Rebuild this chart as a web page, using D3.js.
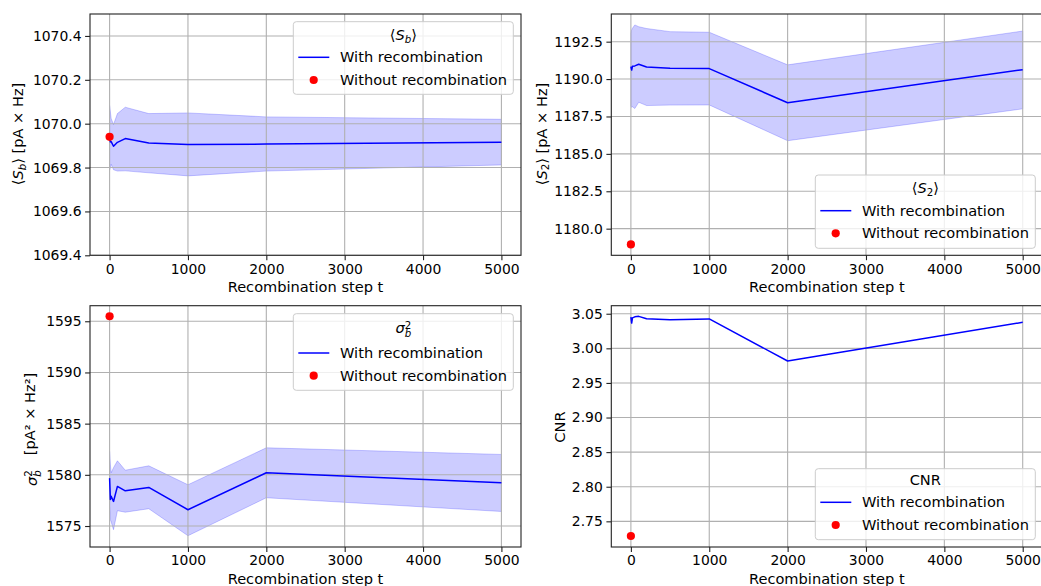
<!DOCTYPE html>
<html><head><meta charset="utf-8">
<script src="https://cdn.jsdelivr.net/npm/d3@7"></script>
<style>
body{margin:0;background:#fff;overflow:hidden}
text{font-family:"DejaVu Sans",sans-serif;fill:#000}
</style>
</head><body>
<svg id="c" width="1041" height="586"></svg>
<script>
// ---- data ----
const steps = [0, 10, 20, 50, 100, 200, 500, 1000, 2000, 5000];
const xTicks = [0, 1000, 2000, 3000, 4000, 5000];

const sbMean  = [1069.935, 1069.917, 1069.918, 1069.897, 1069.915, 1069.932, 1069.912, 1069.905, 1069.907, 1069.915];
const sbUpper = [1070.083, 1070.054, 1070.024, 1069.996, 1070.046, 1070.075, 1070.046, 1070.049, 1070.031, 1070.020];
const sbLower = [1069.788, 1069.800, 1069.815, 1069.790, 1069.784, 1069.785, 1069.776, 1069.762, 1069.784, 1069.812];
const sbNoRec = 1069.94;
const sbTicks = [1069.4, 1069.6, 1069.8, 1070.0, 1070.2, 1070.4];

const s2Mean  = [1190.83, 1190.60, 1190.85, 1190.88, 1190.99, 1190.81, 1190.73, 1190.70, 1188.42, 1190.63];
const s2Upper = [1193.06, 1193.30, 1193.40, 1193.62, 1193.50, 1193.38, 1193.17, 1193.13, 1190.95, 1193.21];
const s2Lower = [1188.21, 1188.10, 1188.15, 1188.03, 1188.45, 1188.23, 1188.26, 1188.27, 1185.88, 1188.01];
const s2NoRec = 1178.95;
const s2Ticks = [1180.0, 1182.5, 1185.0, 1187.5, 1190.0, 1192.5];

const sigMean  = [1579.68, 1577.60, 1577.90, 1577.40, 1578.87, 1578.44, 1578.77, 1576.59, 1580.20, 1579.22];
const sigUpper = [1582.30, 1581.00, 1580.20, 1580.70, 1581.37, 1580.45, 1580.88, 1579.03, 1582.64, 1581.99];
const sigLower = [1577.00, 1575.60, 1575.40, 1574.64, 1576.50, 1576.35, 1576.69, 1574.05, 1577.76, 1576.42];
const sigNoRec = 1595.49;
const sigTicks = [1575, 1580, 1585, 1590, 1595];

const cnrMean = [3.0452, 3.0365, 3.0440, 3.0455, 3.0462, 3.0427, 3.0413, 3.0425, 2.9817, 3.0376];
const cnrNoRec = 2.7288;
const cnrTicks = [2.75, 2.80, 2.85, 2.90, 2.95, 3.00, 3.05];

const legendLabels = ["With recombination", "Without recombination"];
const xLabel = "Recombination step t";

// ---- layout ----
const svg = d3.select("#c");
const FS = 13.9;   // tick labels
const FL = 14.6;   // axis labels & legend
const PW = 431, PH = 241.3;

const panels = [
  {left: 90, top: 14, dom: [1069.4, 1070.5], ticks: sbTicks, fmt: d3.format(".1f"),
   mean: sbMean, upper: sbUpper, lower: sbLower, noRec: sbNoRec,
   legend: {x: 293.3, y: 21.7, h: 72.6, t: 13.3, e1: 35.6, e2: 58.3}, title: "sb",
   ylab: {x: 18.3, y: 134, kind: "sb"}},
  {left: 611.3, top: 14, dom: [1178.22, 1194.35], ticks: s2Ticks, fmt: d3.format(".1f"),
   mean: s2Mean, upper: s2Upper, lower: s2Lower, noRec: s2NoRec,
   legend: {x: 815.3, y: 175, h: 73.3, t: 13.3, e1: 35.7, e2: 58.3}, title: "s2",
   ylab: {x: 541.7, y: 134, kind: "s2"}},
  {left: 90, top: 305.7, dom: [1572.95, 1596.52], ticks: sigTicks, fmt: d3.format("d"),
   mean: sigMean, upper: sigUpper, lower: sigLower, noRec: sigNoRec,
   legend: {x: 293.3, y: 313.7, h: 76.6, t: 14.6, e1: 39.3, e2: 62}, title: "sig",
   ylab: {x: 31.7, y: 426.5, kind: "sig"}},
  {left: 611.3, top: 305.7, dom: [2.7129, 3.0616], ticks: cnrTicks, fmt: d3.format(".2f"),
   mean: cnrMean, upper: null, lower: null, noRec: cnrNoRec,
   legend: {x: 815.3, y: 468.7, h: 71, t: 11, e1: 33.6, e2: 56.3}, title: "cnr",
   ylab: {x: 560, y: 427, kind: "cnr"}}
];

function mathTitle(sel, kind) {
  if (kind === "sb") {
    sel.append("tspan").text("⟨");
    sel.append("tspan").attr("font-style", "italic").text("S");
    sel.append("tspan").attr("font-style", "italic").attr("font-size", "70%").attr("dy", "0.25em").text("b");
    sel.append("tspan").attr("dy", "-0.18em").text("⟩");
  } else if (kind === "s2") {
    sel.append("tspan").text("⟨");
    sel.append("tspan").attr("font-style", "italic").text("S");
    sel.append("tspan").attr("font-size", "70%").attr("dy", "0.25em").text("2");
    sel.append("tspan").attr("dy", "-0.18em").text("⟩");
  } else if (kind === "sig") {
    sel.append("tspan").attr("font-style", "italic").text("σ");
    sel.append("tspan").attr("font-size", "70%").attr("dy", "-0.45em").text("2");
    sel.append("tspan").attr("font-size", "70%").attr("font-style", "italic").attr("dx", -6.5).attr("dy", "0.85em").text("b");
  } else {
    sel.append("tspan").text("CNR");
  }
}

panels.forEach((p, i) => {
  const x = d3.scaleLinear().domain([-250, 5250]).range([p.left, p.left + PW]);
  const y = d3.scaleLinear().domain(p.dom).range([p.top + PH, p.top]);
  const g = svg.append("g");
  const clipId = "clip" + i;
  svg.append("clipPath").attr("id", clipId).append("rect")
    .attr("x", p.left).attr("y", p.top).attr("width", PW).attr("height", PH);

  // band
  if (p.upper) {
    const area = d3.area().x((d, j) => x(steps[j])).y0((d, j) => y(p.lower[j])).y1((d, j) => y(p.upper[j]));
    g.append("path").datum(p.mean).attr("d", area).attr("fill", "#0000ff").attr("fill-opacity", 0.2)
      .attr("stroke", "#0000ff").attr("stroke-opacity", 0.2).attr("stroke-width", 1)
      .attr("clip-path", `url(#${clipId})`);
  }

  // grid
  const gridG = g.append("g").attr("clip-path", `url(#${clipId})`);
  gridG.selectAll("line.gx").data(xTicks).join("line")
    .attr("x1", d => x(d)).attr("x2", d => x(d)).attr("y1", p.top).attr("y2", p.top + PH)
    .attr("stroke", "#b0b0b0").attr("stroke-width", 1.1);
  gridG.selectAll("line.gy").data(p.ticks).join("line")
    .attr("y1", d => y(d)).attr("y2", d => y(d)).attr("x1", p.left).attr("x2", p.left + PW)
    .attr("stroke", "#b0b0b0").attr("stroke-width", 1.1);

  // line
  const line = d3.line().x((d, j) => x(steps[j])).y(d => y(d));
  g.append("path").datum(p.mean).attr("d", line).attr("fill", "none")
    .attr("stroke", "#0000ff").attr("stroke-width", 1.5).attr("stroke-linejoin", "round")
    .attr("clip-path", `url(#${clipId})`);

  // red point
  g.append("circle").attr("cx", x(0)).attr("cy", y(p.noRec)).attr("r", 4.1).attr("fill", "#ff0000");

  // frame
  g.append("rect").attr("x", p.left).attr("y", p.top).attr("width", PW).attr("height", PH)
    .attr("fill", "none").attr("stroke", "#222").attr("stroke-width", 1.1);

  // axes
  const xa = g.append("g").attr("transform", `translate(0,${p.top + PH})`)
    .call(d3.axisBottom(x).tickValues(xTicks).tickFormat(d3.format("d")).tickSize(4.9).tickPadding(3.6));
  const ya = g.append("g").attr("transform", `translate(${p.left},0)`)
    .call(d3.axisLeft(y).tickValues(p.ticks).tickFormat(p.fmt).tickSize(4.9).tickPadding(3.6));
  [xa, ya].forEach(a => {
    a.select(".domain").remove();
    a.selectAll(".tick line").attr("stroke", "#222").attr("stroke-width", 1.1);
    a.selectAll(".tick text").attr("font-size", FS).attr("font-family", "DejaVu Sans").attr("fill", "#000");
  });

  // x label
  g.append("text").attr("x", p.left + PW / 2).attr("y", p.top + PH + 31.4).attr("dy", "0.35em")
    .attr("text-anchor", "middle").attr("font-size", FL).text(xLabel);

  // y label
  const yl = p.ylab;
  if (yl.kind === "sig") {
    const t = g.append("text").attr("transform", `translate(${yl.x},486) rotate(-90)`)
      .attr("dy", "0.35em").attr("font-size", FL).attr("text-anchor", "start");
    mathTitle(t, "sig");
    t.append("tspan").attr("dx", 15).attr("dy", "-0.4em").text("[pA² × Hz²]");
  } else if (yl.kind === "cnr") {
    g.append("text").attr("transform", `translate(${yl.x},${yl.y}) rotate(-90)`)
      .attr("dy", "0.35em").attr("font-size", FL).attr("text-anchor", "middle").text("CNR");
  } else {
    const t = g.append("text").attr("transform", `translate(${yl.x},${yl.y}) rotate(-90)`)
      .attr("dy", "0.35em").attr("font-size", FL).attr("text-anchor", "middle");
    mathTitle(t, yl.kind);
    t.append("tspan").text(" [pA × Hz]");
  }

  // legend
  const L = p.legend, LW = 220;
  const lg = g.append("g");
  lg.append("rect").attr("x", L.x).attr("y", L.y).attr("width", LW).attr("height", L.h)
    .attr("rx", 3).attr("fill", "#fff").attr("fill-opacity", 0.8).attr("stroke", "#ccc").attr("stroke-width", 1);
  const tt = lg.append("text").attr("x", L.x + LW / 2).attr("y", L.y + L.t).attr("dy", "0.35em")
    .attr("text-anchor", "middle").attr("font-size", FL);
  mathTitle(tt, p.title);
  lg.append("line").attr("x1", L.x + 5).attr("x2", L.x + 36).attr("y1", L.y + L.e1).attr("y2", L.y + L.e1)
    .attr("stroke", "#0000ff").attr("stroke-width", 1.5);
  lg.append("text").attr("x", L.x + 46.7).attr("y", L.y + L.e1).attr("dy", "0.35em").attr("font-size", FL).text(legendLabels[0]);
  lg.append("circle").attr("cx", L.x + 20.4).attr("cy", L.y + L.e2).attr("r", 4.1).attr("fill", "#ff0000");
  lg.append("text").attr("x", L.x + 46.7).attr("y", L.y + L.e2).attr("dy", "0.35em").attr("font-size", FL).text(legendLabels[1]);
});
</script>
</body></html>
